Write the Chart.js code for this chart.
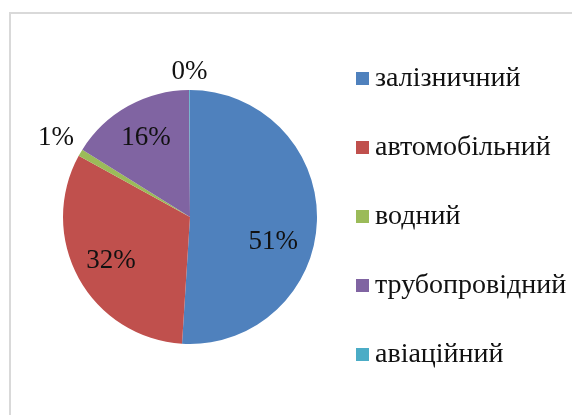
<!DOCTYPE html>
<html lang="uk">
<head>
    <meta charset="UTF-8">
    <title>Структура перевезень за видами транспорту</title>
    <script src="https://cdn.jsdelivr.net/npm/chart.js@4.4.0/dist/chart.umd.min.js"></script>
    <style>
        html, body { margin: 0; padding: 0; background: #fff; }
        .wrap { position: relative; width: 572px; height: 415px; overflow: hidden; }
        .frame { position: absolute; left: 9px; top: 12px; width: 600px; height: 420px;
                 border-top: 2px solid #d9d9d9; border-left: 2px solid #d9d9d9; }
        #pie { position: absolute; left: 0; top: 0; }
    </style>
</head>
<body>
<div class="wrap">
    <div class="frame"></div>
    <canvas id="pie" width="572" height="415"></canvas>
</div>
<script>
    // види транспорту, частка у %
    const categories = ['залізничний', 'автомобільний', 'водний', 'трубопровідний', 'авіаційний'];
    const shares = [51, 32, 0.9, 16, 0.1];
    const colors = ['#4f81bd', '#c0504d', '#9bbb59', '#8064a2', '#4bacc6'];

    const FONT = '"Liberation Serif", "Times New Roman", serif';

    // підписи відсотків: великі сектори всередині, малі назовні
    const pieLabels = {
        id: 'pieLabels',
        afterDatasetsDraw(chart, args, opts) {
            const ctx = chart.ctx;
            const meta = chart.getDatasetMeta(0);
            const values = chart.data.datasets[0].data;
            const total = values.reduce((s, v) => s + v, 0);
            ctx.save();
            ctx.font = opts.size + 'px ' + FONT;
            ctx.fillStyle = opts.color;
            ctx.textAlign = 'center';
            ctx.textBaseline = 'middle';
            meta.data.forEach((arc, i) => {
                const p = arc.getProps(['x', 'y', 'startAngle', 'endAngle', 'outerRadius'], true);
                const mid = (p.startAngle + p.endAngle) / 2;
                const cos = Math.cos(mid), sin = Math.sin(mid);
                const text = Math.round(values[i] / total * 100) + '%';
                let x, y;
                if (values[i] / total * 100 < 5) {
                    const w = ctx.measureText(text).width / 2;
                    const h = opts.size * 0.36;
                    const r = p.outerRadius + opts.gap + Math.abs(cos) * w + Math.abs(sin) * h;
                    x = p.x + cos * r;
                    y = p.y + sin * r;
                } else {
                    const r = p.outerRadius * opts.inside;
                    x = p.x + cos * r;
                    y = p.y + sin * r;
                }
                const shift = opts.shift[i] || [0, 0];
                ctx.fillText(text, x + shift[0], y + shift[1]);
            });
            ctx.restore();
        }
    };

    // легенда праворуч
    const sideLegend = {
        id: 'sideLegend',
        afterDraw(chart, args, opts) {
            const ctx = chart.ctx;
            const ds = chart.data.datasets[0];
            ctx.save();
            ctx.font = opts.size + 'px ' + FONT;
            ctx.textAlign = 'left';
            ctx.textBaseline = 'middle';
            chart.data.labels.forEach((label, i) => {
                const y = opts.top + i * opts.step;
                ctx.fillStyle = ds.backgroundColor[i];
                ctx.fillRect(opts.left, y - opts.box / 2, opts.box, opts.box);
                ctx.fillStyle = opts.color;
                ctx.fillText(label, opts.left + opts.box + opts.gap, y);
            });
            ctx.restore();
        }
    };

    new Chart(document.getElementById('pie'), {
        type: 'pie',
        data: {
            labels: categories,
            datasets: [{
                data: shares,
                backgroundColor: colors,
                borderWidth: 0,
                hoverOffset: 0
            }]
        },
        options: {
            responsive: false,
            animation: false,
            devicePixelRatio: 1,
            layout: { padding: { left: 63, right: 255, top: 90, bottom: 71 } },
            plugins: {
                legend: { display: false },
                tooltip: { enabled: false },
                pieLabels: { size: 27, color: '#111', inside: 0.71, gap: 8, shift: { 0: [-7, 22] } },
                sideLegend: { size: 28, color: '#111', left: 356, top: 78.5, step: 69, box: 13, gap: 6 }
            }
        },
        plugins: [pieLabels, sideLegend]
    });
</script>
</body>
</html>
